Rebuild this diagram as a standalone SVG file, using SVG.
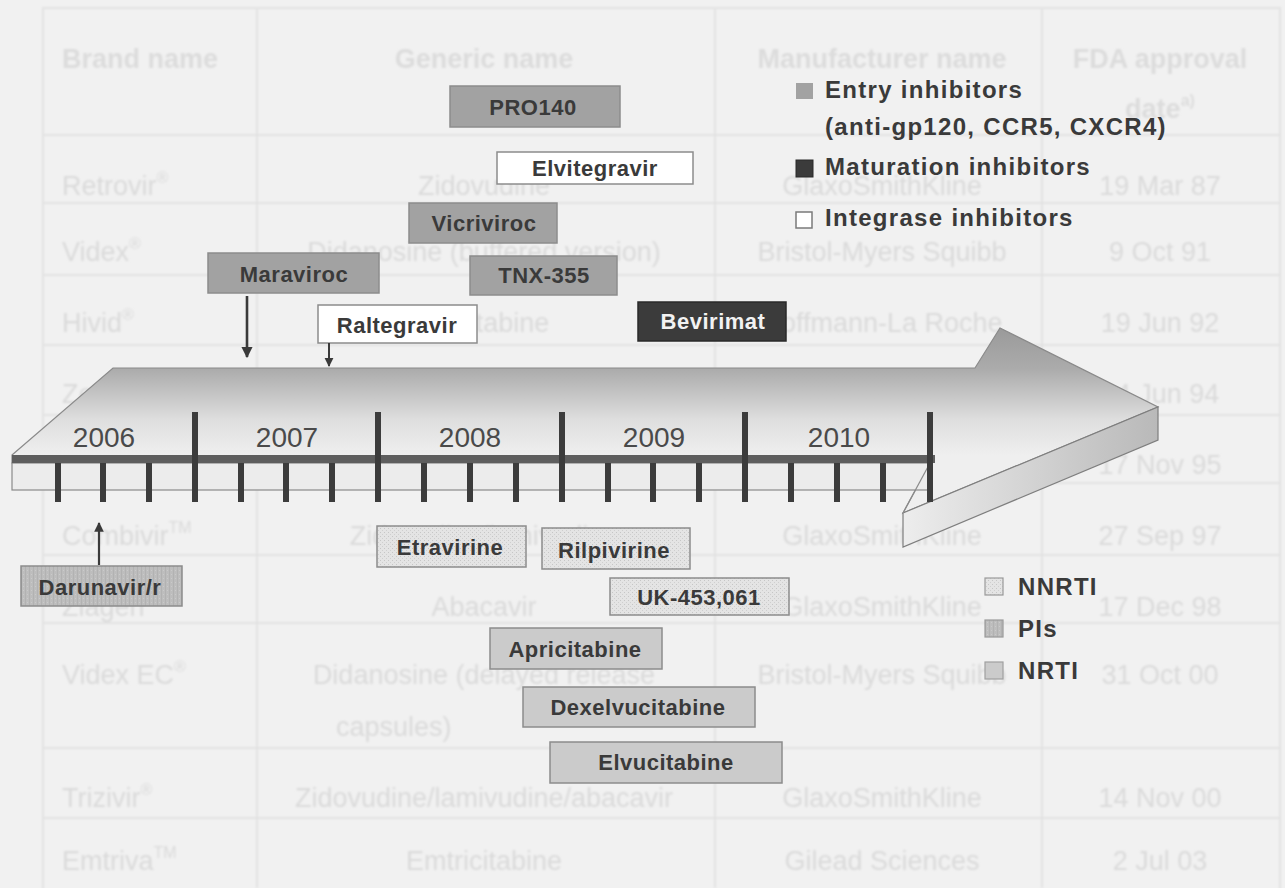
<svg xmlns="http://www.w3.org/2000/svg" width="1285" height="888" viewBox="0 0 1285 888">
  <style>
    .ghost { font-family: "Liberation Sans", Arial, sans-serif; font-size: 27px; fill: #dadada; }
    .ghost-h { font-family: "Liberation Sans", Arial, sans-serif; font-size: 27px; font-weight: bold; fill: #dcdcdc; }
    .grid { stroke: #e2e2e2; stroke-width: 2; fill: none; }
    .year { font-family: "Liberation Sans", Arial, sans-serif; font-size: 28px; fill: #4a4a4a; text-anchor: middle; }
    .lbl { font-family: "Liberation Sans", Arial, sans-serif; font-size: 22px; font-weight: bold; fill: #3a3a3a; text-anchor: middle; letter-spacing: 0.5px; }
    .lbl-inv { fill: #f2f2f2; }
    .leg { font-family: "Liberation Sans", Arial, sans-serif; font-size: 24px; font-weight: bold; fill: #3a3a3a; letter-spacing: 1.3px; }
    .box { stroke: #8c8c8c; stroke-width: 1.5; }
    .entry { fill: #a2a2a2; }
    .integrase { fill: #ffffff; }
    .maturation { fill: #3b3b3b; stroke: #2a2a2a; }
    .nnrti { fill: url(#nnrtiFill); }
    .pis { fill: url(#pisFill); }
    .nrti { fill: #cbcbcb; }
    .tick { stroke: #3c3c3c; stroke-width: 6; }
    .conn { stroke: #3a3a3a; fill: none; marker-end: url(#head); }
  </style>
  <defs>
    <pattern id="nnrtiFill" width="4" height="4" patternUnits="userSpaceOnUse">
      <rect width="4" height="4" fill="#e4e4e4"/>
      <rect x="0" y="0" width="1" height="1" fill="#c6c6c6"/>
      <rect x="2" y="2" width="1" height="1" fill="#cfcfcf"/>
    </pattern>
    <pattern id="pisFill" width="4" height="4" patternUnits="userSpaceOnUse">
      <rect width="4" height="4" fill="#bdbdbd"/>
      <rect x="1" y="0" width="1" height="4" fill="#b2b2b2"/>
      <rect x="3" y="2" width="1" height="1" fill="#cacaca"/>
    </pattern>
    <linearGradient id="topFace" gradientUnits="userSpaceOnUse" x1="0" y1="328" x2="0" y2="455">
      <stop offset="0" stop-color="#9a9a9a"/>
      <stop offset="0.32" stop-color="#ababab"/>
      <stop offset="0.72" stop-color="#dedede"/>
      <stop offset="1" stop-color="#efefef"/>
    </linearGradient>
    <linearGradient id="headFront" gradientUnits="userSpaceOnUse" x1="903" y1="0" x2="1158" y2="0">
      <stop offset="0" stop-color="#ededed"/>
      <stop offset="1" stop-color="#b9b9b9"/>
    </linearGradient>
    <filter id="soft" x="-2%" y="-2%" width="104%" height="104%">
      <feGaussianBlur stdDeviation="0.9"/>
    </filter>
    <marker id="head" viewBox="0 0 10 10" refX="9" refY="5" markerWidth="4.4" markerHeight="4.8" orient="auto" markerUnits="strokeWidth">
      <path d="M0,0 L10,5 L0,10 Z" fill="#3a3a3a"/>
    </marker>
  </defs>

  <!-- page background -->
  <rect x="0" y="0" width="1285" height="888" fill="#f1f1f1"/>

  <!-- faint approval table underneath the chart -->
  <g id="table" filter="url(#soft)">
    <rect class="grid" x="43" y="8" width="1237" height="890"/>
    <line class="grid" x1="257" y1="8" x2="257" y2="888"/>
    <line class="grid" x1="715" y1="8" x2="715" y2="888"/>
    <line class="grid" x1="1042" y1="8" x2="1042" y2="888"/>
    <line class="grid" x1="43" y1="135" x2="1280" y2="135"/>
    <line class="grid" x1="43" y1="203" x2="1280" y2="203"/>
    <line class="grid" x1="43" y1="275" x2="1280" y2="275"/>
    <line class="grid" x1="43" y1="345" x2="1280" y2="345"/>
    <line class="grid" x1="43" y1="415" x2="1280" y2="415"/>
    <line class="grid" x1="43" y1="483" x2="1280" y2="483"/>
    <line class="grid" x1="43" y1="555" x2="1280" y2="555"/>
    <line class="grid" x1="43" y1="623" x2="1280" y2="623"/>
    <line class="grid" x1="43" y1="748" x2="1280" y2="748"/>
    <line class="grid" x1="43" y1="818" x2="1280" y2="818"/>

    <text class="ghost-h" x="62" y="68">Brand name</text>
    <text class="ghost-h" x="484" y="68" text-anchor="middle">Generic name</text>
    <text class="ghost-h" x="882" y="68" text-anchor="middle">Manufacturer name</text>
    <text class="ghost-h" x="1160" y="68" text-anchor="middle">FDA approval</text>
    <text class="ghost-h" x="1160" y="118" text-anchor="middle">date<tspan font-size="16" dy="-12">a)</tspan></text>

    <text class="ghost" x="62" y="195">Retrovir<tspan font-size="16" dy="-12">®</tspan></text>
    <text class="ghost" x="484" y="195" text-anchor="middle">Zidovudine</text>
    <text class="ghost" x="882" y="195" text-anchor="middle">GlaxoSmithKline</text>
    <text class="ghost" x="1160" y="195" text-anchor="middle">19 Mar 87</text>

    <text class="ghost" x="62" y="261">Videx<tspan font-size="16" dy="-12">®</tspan></text>
    <text class="ghost" x="484" y="261" text-anchor="middle">Didanosine (buffered version)</text>
    <text class="ghost" x="882" y="261" text-anchor="middle">Bristol-Myers Squibb</text>
    <text class="ghost" x="1160" y="261" text-anchor="middle">9 Oct 91</text>

    <text class="ghost" x="62" y="332">Hivid<tspan font-size="16" dy="-12">®</tspan></text>
    <text class="ghost" x="484" y="332" text-anchor="middle">Zalcitabine</text>
    <text class="ghost" x="882" y="332" text-anchor="middle">Hoffmann-La Roche</text>
    <text class="ghost" x="1160" y="332" text-anchor="middle">19 Jun 92</text>

    <text class="ghost" x="62" y="403">Zerit<tspan font-size="16" dy="-12">®</tspan></text>
    <text class="ghost" x="484" y="403" text-anchor="middle">Stavudine</text>
    <text class="ghost" x="882" y="403" text-anchor="middle">Bristol-Myers Squibb</text>
    <text class="ghost" x="1160" y="403" text-anchor="middle">24 Jun 94</text>

    <text class="ghost" x="62" y="474">Epivir<tspan font-size="16" dy="-12">®</tspan></text>
    <text class="ghost" x="484" y="474" text-anchor="middle">Lamivudine</text>
    <text class="ghost" x="882" y="474" text-anchor="middle">GlaxoSmithKline</text>
    <text class="ghost" x="1160" y="474" text-anchor="middle">17 Nov 95</text>

    <text class="ghost" x="62" y="545">Combivir<tspan font-size="16" dy="-12">TM</tspan></text>
    <text class="ghost" x="484" y="545" text-anchor="middle">Zidovudine/lamivudine</text>
    <text class="ghost" x="882" y="545" text-anchor="middle">GlaxoSmithKline</text>
    <text class="ghost" x="1160" y="545" text-anchor="middle">27 Sep 97</text>

    <text class="ghost" x="62" y="616">Ziagen<tspan font-size="16" dy="-12">®</tspan></text>
    <text class="ghost" x="484" y="616" text-anchor="middle">Abacavir</text>
    <text class="ghost" x="882" y="616" text-anchor="middle">GlaxoSmithKline</text>
    <text class="ghost" x="1160" y="616" text-anchor="middle">17 Dec 98</text>

    <text class="ghost" x="62" y="684">Videx EC<tspan font-size="16" dy="-12">®</tspan></text>
    <text class="ghost" x="484" y="684" text-anchor="middle">Didanosine (delayed release</text>
    <text class="ghost" x="336" y="736">capsules)</text>
    <text class="ghost" x="882" y="684" text-anchor="middle">Bristol-Myers Squibb</text>
    <text class="ghost" x="1160" y="684" text-anchor="middle">31 Oct 00</text>

    <text class="ghost" x="62" y="807">Trizivir<tspan font-size="16" dy="-12">®</tspan></text>
    <text class="ghost" x="484" y="807" text-anchor="middle">Zidovudine/lamivudine/abacavir</text>
    <text class="ghost" x="882" y="807" text-anchor="middle">GlaxoSmithKline</text>
    <text class="ghost" x="1160" y="807" text-anchor="middle">14 Nov 00</text>

    <text class="ghost" x="62" y="870">Emtriva<tspan font-size="16" dy="-12">TM</tspan></text>
    <text class="ghost" x="484" y="870" text-anchor="middle">Emtricitabine</text>
    <text class="ghost" x="882" y="870" text-anchor="middle">Gilead Sciences</text>
    <text class="ghost" x="1160" y="870" text-anchor="middle">2 Jul 03</text>
  </g>

  <!-- 3D timeline arrow -->
  <g id="timeline">
    <path d="M12,455 L113,368 L975,368 L1000,328 L1158,407 L903,513 L930,463 L12,463 Z" fill="url(#topFace)" stroke="#8a8a8a" stroke-width="1.2"/>
    <rect x="12" y="463" width="918" height="27" fill="#ececec" stroke="#8a8a8a" stroke-width="1.2"/>
    <path d="M903,513 L1158,407 L1158,440 L903,547 Z" fill="url(#headFront)" stroke="#7e7e7e" stroke-width="1.2"/>
    <line x1="903" y1="513" x2="930" y2="463" stroke="#8a8a8a" stroke-width="1.2"/>
    <line x1="12" y1="459" x2="935" y2="459" stroke="#5e5e5e" stroke-width="8"/>

    <g id="major-ticks">
      <line class="tick" x1="195" y1="412" x2="195" y2="502"/>
      <line class="tick" x1="378" y1="412" x2="378" y2="502"/>
      <line class="tick" x1="562" y1="412" x2="562" y2="502"/>
      <line class="tick" x1="745" y1="412" x2="745" y2="502"/>
      <line class="tick" x1="930" y1="412" x2="930" y2="502"/>
    </g>
    <g id="minor-ticks">
      <line class="tick" x1="58" y1="463" x2="58" y2="502"/>
      <line class="tick" x1="103" y1="463" x2="103" y2="502"/>
      <line class="tick" x1="149" y1="463" x2="149" y2="502"/>
      <line class="tick" x1="241" y1="463" x2="241" y2="502"/>
      <line class="tick" x1="286" y1="463" x2="286" y2="502"/>
      <line class="tick" x1="332" y1="463" x2="332" y2="502"/>
      <line class="tick" x1="424" y1="463" x2="424" y2="502"/>
      <line class="tick" x1="470" y1="463" x2="470" y2="502"/>
      <line class="tick" x1="516" y1="463" x2="516" y2="502"/>
      <line class="tick" x1="608" y1="463" x2="608" y2="502"/>
      <line class="tick" x1="653" y1="463" x2="653" y2="502"/>
      <line class="tick" x1="699" y1="463" x2="699" y2="502"/>
      <line class="tick" x1="791" y1="463" x2="791" y2="502"/>
      <line class="tick" x1="837" y1="463" x2="837" y2="502"/>
      <line class="tick" x1="883" y1="463" x2="883" y2="502"/>
    </g>

    <text class="year" x="104" y="447">2006</text>
    <text class="year" x="287" y="447">2007</text>
    <text class="year" x="470" y="447">2008</text>
    <text class="year" x="654" y="447">2009</text>
    <text class="year" x="839" y="447">2010</text>
  </g>

  <!-- drug boxes -->
  <g id="pro140"><rect class="box entry" x="450" y="86" width="170" height="41"/><text class="lbl" x="533" y="115">PRO140</text></g>
  <g id="elvitegravir"><rect class="box integrase" x="497" y="152" width="196" height="32"/><text class="lbl" x="595" y="176">Elvitegravir</text></g>
  <g id="vicriviroc"><rect class="box entry" x="409" y="203" width="148" height="40"/><text class="lbl" x="484" y="231">Vicriviroc</text></g>
  <g id="tnx355"><rect class="box entry" x="470" y="256" width="147" height="39"/><text class="lbl" x="544" y="283">TNX-355</text></g>
  <g id="maraviroc"><rect class="box entry" x="208" y="253" width="171" height="40"/><text class="lbl" x="294" y="282">Maraviroc</text></g>
  <g id="raltegravir"><rect class="box integrase" x="318" y="305" width="159" height="38"/><text class="lbl" x="397" y="333">Raltegravir</text></g>
  <g id="bevirimat"><rect class="box maturation" x="638" y="302" width="148" height="39"/><text class="lbl lbl-inv" x="713" y="329">Bevirimat</text></g>

  <g id="etravirine"><rect class="box nnrti" x="377" y="526" width="149" height="41"/><text class="lbl" x="450" y="555">Etravirine</text></g>
  <g id="rilpivirine"><rect class="box nnrti" x="542" y="528" width="148" height="41"/><text class="lbl" x="614" y="558">Rilpivirine</text></g>
  <g id="uk453061"><rect class="box nnrti" x="610" y="578" width="179" height="37"/><text class="lbl" x="699" y="605">UK-453,061</text></g>
  <g id="darunavir"><rect class="box pis" x="21" y="566" width="161" height="40"/><text class="lbl" x="100" y="595">Darunavir/r</text></g>
  <g id="apricitabine"><rect class="box nrti" x="490" y="628" width="172" height="41"/><text class="lbl" x="575" y="657">Apricitabine</text></g>
  <g id="dexelvucitabine"><rect class="box nrti" x="523" y="687" width="232" height="40"/><text class="lbl" x="638" y="715">Dexelvucitabine</text></g>
  <g id="elvucitabine"><rect class="box nrti" x="550" y="742" width="232" height="41"/><text class="lbl" x="666" y="770">Elvucitabine</text></g>

  <!-- pointers onto the timeline -->
  <g id="connectors">
    <line class="conn" x1="247" y1="296" x2="247" y2="357" stroke-width="2.6"/>
    <line class="conn" x1="329" y1="343" x2="329" y2="366" stroke-width="2"/>
    <line class="conn" x1="99" y1="565" x2="99" y2="523" stroke-width="2.2"/>
  </g>

  <!-- legend: target classes -->
  <g id="legend-top">
    <rect class="entry" x="796" y="83" width="17" height="16"/>
    <text class="leg" x="825" y="98">Entry inhibitors</text>
    <text class="leg" x="825" y="135">(anti-gp120, CCR5, CXCR4)</text>
    <rect class="maturation" x="796" y="160" width="17" height="17"/>
    <text class="leg" x="825" y="175">Maturation inhibitors</text>
    <rect class="integrase" x="796" y="212" width="16" height="16" stroke="#7a7a7a" stroke-width="1.5"/>
    <text class="leg" x="825" y="226">Integrase inhibitors</text>
  </g>

  <!-- legend: reverse transcriptase / protease classes -->
  <g id="legend-bottom">
    <rect class="nnrti" x="985" y="578" width="18" height="17" stroke="#9a9a9a" stroke-width="1.2"/>
    <text class="leg" x="1018" y="595">NNRTI</text>
    <rect class="pis" x="985" y="620" width="18" height="17" stroke="#9a9a9a" stroke-width="1.2"/>
    <text class="leg" x="1018" y="637">PIs</text>
    <rect class="nrti" x="985" y="662" width="18" height="17" stroke="#a0a0a0" stroke-width="1.2"/>
    <text class="leg" x="1018" y="679">NRTI</text>
  </g>
</svg>
